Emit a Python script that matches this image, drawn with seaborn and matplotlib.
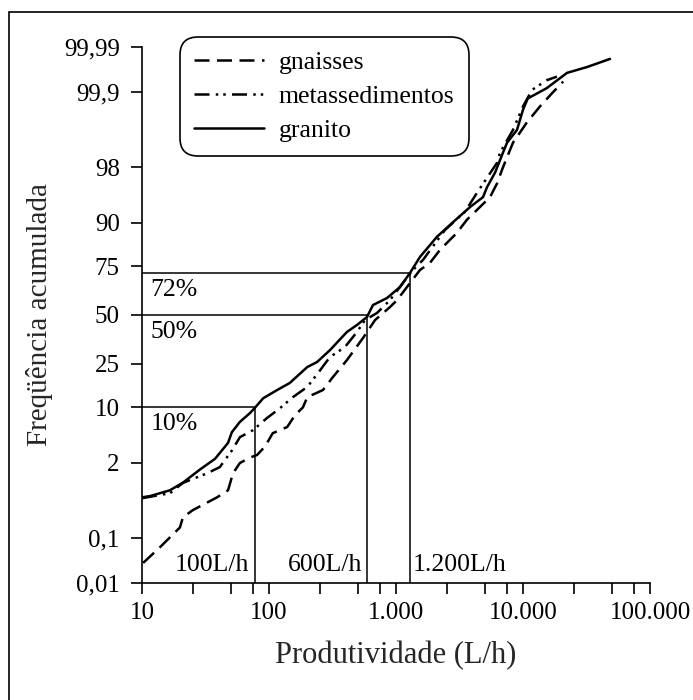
import math
import numpy as np
import pandas as pd
import seaborn as sns
import matplotlib
matplotlib.use("Agg")
import matplotlib.pyplot as plt
from matplotlib.patches import Rectangle
from matplotlib.ticker import FixedLocator, NullFormatter

# curves: productivity (L/h) vs cumulative frequency (%)
granito_q = [10, 11.6, 16.6, 21, 28.6, 37.6, 47.6, 51, 59, 71, 78, 90, 116, 146, 200,
             239, 302, 411, 493, 591, 659, 849, 1075, 1288, 1545, 2100, 2810, 3830,
             4840, 5210, 6030, 6970, 7490, 8970, 10000, 10900, 15400, 22200, 31900, 48400]
granito_f = [0.57, 0.6, 0.75, 1.0, 1.6, 2.3, 3.8, 5.2, 6.9, 8.7, 10, 12.4, 14.9, 17.3, 23.5,
             25.7, 31.3, 40.7, 44.5, 48.9, 55.5, 59.3, 65.1, 72.0, 79.0, 86.1, 90.1, 93.3,
             94.9, 96.2, 97.6, 98.8, 99.16, 99.49, 99.78, 99.867, 99.918, 99.961, 99.971, 99.981]

meta_q = [10, 16.6, 21, 32.5, 41, 51, 59, 74.8, 96, 122, 154, 200, 243, 302, 396, 493,
          570, 708, 897, 1135, 1360, 1633, 2430, 3490, 4340, 6240, 6590, 8340, 10000,
          11800, 15400, 18500]
meta_f = [0.55, 0.67, 0.99, 1.4, 1.74, 3.0, 4.5, 5.5, 7.6, 9.8, 12.7, 15.9, 21, 28, 32.8, 40.7,
          47.2, 51.1, 58.2, 67.2, 73.4, 77.8, 88.1, 92.4, 95.5, 98.26, 98.78, 99.49, 99.81,
          99.911, 99.944, 99.953]

gnaisse_q = [10.2, 13.9, 19.9, 21, 25.2, 39, 47.6, 52, 59, 71, 80.5, 93, 107, 139, 160, 185,
             200, 266, 319, 411, 550, 684, 897, 1020, 1220, 1545, 1850, 2220, 3020, 3620,
             4580, 5500, 6240, 6970, 8340, 10700, 13600, 17200, 20700]
gnaisse_f = [0.029, 0.064, 0.16, 0.25, 0.34, 0.57, 0.75, 1.4, 2.0, 2.4, 2.6, 3.4, 5.05, 6.0,
             8.2, 10.0, 12.7, 14.9, 19.5, 26.6, 37.5, 47.2, 54.4, 58.2, 65.1, 73.4, 76.5,
             81.7, 87.3, 90.7, 93.3, 94.9, 96.6, 98.0, 99.16, 99.62, 99.81, 99.90, 99.94]

rochas = ["gnaisses", "metassedimentos", "granito"]

# reference lines
ref_q = [77, 595, 1280]
ref_f = [10, 50, 72]
ref_pct_txt = ["10%", "50%", "72%"]
ref_q_txt = ["100L/h", "600L/h", "1.200L/h"]

y_ticks = [0.01, 0.1, 2, 10, 25, 50, 75, 90, 98, 99.9, 99.99]
y_labels = ["0,01", "0,1", "2", "10", "25", "50", "75", "90", "98", "99,9", "99,99"]
x_ticks = [10, 100, 1000, 10000, 100000]
x_labels = ["10", "100", "1.000", "10.000", "100.000"]


# normal probability scale (Acklam's inverse normal)
_a = [-3.969683028665376e+01, 2.209460984245205e+02, -2.759285104469687e+02,
      1.383577518672690e+02, -3.066479806614716e+01, 2.506628277459239e+00]
_b = [-5.447609879822406e+01, 1.615858368580409e+02, -1.556989798598866e+02,
      6.680131188771972e+01, -1.328068155288572e+01]
_c = [-7.784894002430293e-03, -3.223964580411365e-01, -2.400758277161838e+00,
      -2.549671010029766e+00, 4.374664141464968e+00, 2.938163982698783e+00]
_d = [7.784695709041462e-03, 3.224671290700398e-01, 2.445134137142996e+00,
      3.754408661907416e+00]


def _tail(t):
    num = ((((_c[0] * t + _c[1]) * t + _c[2]) * t + _c[3]) * t + _c[4]) * t + _c[5]
    den = (((_d[0] * t + _d[1]) * t + _d[2]) * t + _d[3]) * t + 1
    return num / den


def prob_fwd(p):
    q = np.clip(np.asarray(p, dtype=float) / 100.0, 1e-9, 1 - 1e-9)
    z = np.zeros_like(q)
    plow = 0.02425
    lo = q < plow
    hi = q > 1 - plow
    mid = ~(lo | hi)
    if lo.any():
        z[lo] = _tail(np.sqrt(-2 * np.log(q[lo])))
    if hi.any():
        z[hi] = -_tail(np.sqrt(-2 * np.log(1 - q[hi])))
    if mid.any():
        r = q[mid] - 0.5
        s = r * r
        num = (((((_a[0] * s + _a[1]) * s + _a[2]) * s + _a[3]) * s + _a[4]) * s + _a[5]) * r
        den = ((((_b[0] * s + _b[1]) * s + _b[2]) * s + _b[3]) * s + _b[4]) * s + 1
        z[mid] = num / den
    return z


_erf = np.vectorize(math.erf, otypes=[float])


def prob_inv(z):
    z = np.asarray(z, dtype=float)
    return 50.0 * (1 + _erf(z / math.sqrt(2)))


df = pd.concat([
    pd.DataFrame({"produtividade": gnaisse_q, "frequencia": gnaisse_f, "rocha": "gnaisses"}),
    pd.DataFrame({"produtividade": meta_q, "frequencia": meta_f, "rocha": "metassedimentos"}),
    pd.DataFrame({"produtividade": granito_q, "frequencia": granito_f, "rocha": "granito"}),
], ignore_index=True)

sns.set_theme(style="ticks")
plt.rcParams["font.family"] = ["Liberation Serif", "DejaVu Serif"]
plt.rcParams["text.color"] = "black"

fig = plt.figure(figsize=(6.93, 7.0), dpi=100)
ax = fig.add_axes([142 / 693, 1 - 583 / 700, 508 / 693, 536 / 700])

ax.set_xscale("log")
ax.set_yscale("function", functions=(prob_fwd, prob_inv))

sns.lineplot(data=df, x="produtividade", y="frequencia", hue="rocha", style="rocha",
             hue_order=rochas, style_order=rochas,
             palette={r: "black" for r in rochas},
             dashes={"gnaisses": (6, 3), "metassedimentos": (6, 2.5, 1, 2, 1, 2.5),
                     "granito": ""},
             sort=False, estimator=None, lw=1.8, ax=ax)

ax.hlines(ref_f, xmin=10, xmax=ref_q, color="black", lw=1.1)
ax.vlines(ref_q, ymin=0.01, ymax=ref_f, color="black", lw=1.1)

for f, t in zip(ref_f, ref_pct_txt):
    ax.annotate(t, xy=(10, f), xytext=(6, -4), textcoords="offset points",
                ha="left", va="top", fontsize=18.5)
ax.annotate(ref_q_txt[0], xy=(ref_q[0], 0.01), xytext=(-4, 5), textcoords="offset points",
            ha="right", va="bottom", fontsize=18.5)
ax.annotate(ref_q_txt[1], xy=(ref_q[1], 0.01), xytext=(-4, 5), textcoords="offset points",
            ha="right", va="bottom", fontsize=18.5)
ax.annotate(ref_q_txt[2], xy=(ref_q[2], 0.01), xytext=(2, 5), textcoords="offset points",
            ha="left", va="bottom", fontsize=18.5)

ax.set_xlim(10, 100000)
ax.set_ylim(0.01, 99.99)
ax.xaxis.set_major_locator(FixedLocator(x_ticks))
ax.xaxis.set_minor_locator(FixedLocator([m * 10 ** k for k in range(1, 5) for m in (2.5, 5, 7.5)]))
ax.xaxis.set_minor_formatter(NullFormatter())
ax.set_xticklabels(x_labels)
ax.yaxis.set_major_locator(FixedLocator(y_ticks))
ax.yaxis.set_minor_locator(FixedLocator([]))
ax.set_yticklabels(y_labels)

ax.tick_params(axis="both", which="both", direction="out", length=8, width=1.2,
               colors="black", labelsize=18)
ax.tick_params(axis="y", pad=8)
ax.tick_params(axis="x", pad=6)
sns.despine(ax=ax)
for s in ("left", "bottom"):
    ax.spines[s].set_color("black")
    ax.spines[s].set_linewidth(1.2)

ax.set_xlabel("Produtividade (L/h)", fontsize=22, labelpad=12)
ax.set_ylabel("Freqüência acumulada", fontsize=21, labelpad=8)

handles, labels = ax.get_legend_handles_labels()
leg = ax.legend(handles, labels, loc="upper left", bbox_to_anchor=(180 / 693, 1 - 37 / 700),
                bbox_transform=fig.transFigure, fontsize=18.5, frameon=True, fancybox=True,
                framealpha=1, edgecolor="black", handlelength=2.7, handletextpad=0.6,
                labelspacing=0.42, borderpad=0.55, borderaxespad=0)
leg.get_frame().set_linewidth(1.2)
leg.get_frame().set_boxstyle("round,pad=0,rounding_size=0.7")

fig.patches.append(Rectangle((9 / 693, -0.2), 1.5, 1.2 - 12 / 700, transform=fig.transFigure,
                             fill=False, edgecolor="black", lw=1.2))

fig.savefig("out.png", dpi=100, facecolor="white")
